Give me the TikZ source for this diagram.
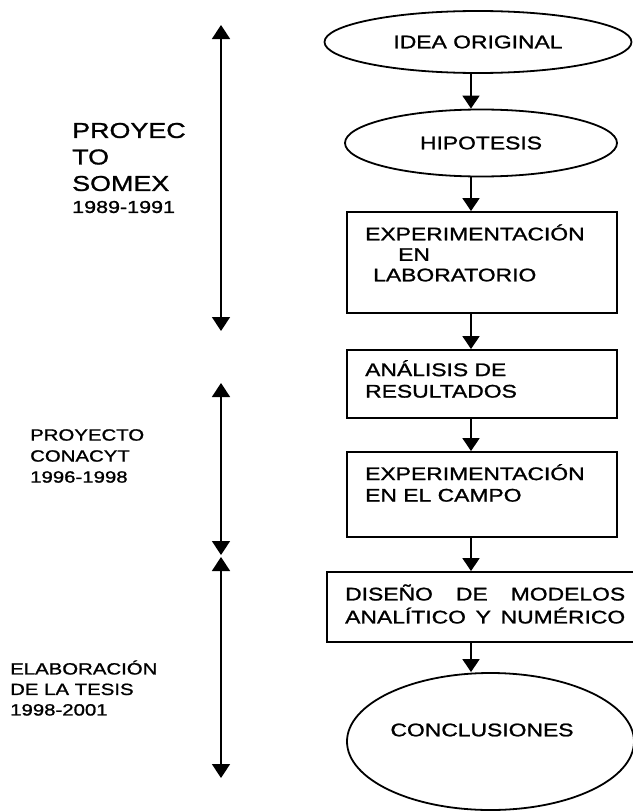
\documentclass[tikz,border=0pt]{standalone}
\usepackage{fontspec}
\setmainfont{Liberation Sans}[FakeStretch=1.25, FakeBold=1.2]
\usetikzlibrary{shapes.geometric,arrows.meta}

\begin{document}
\begin{tikzpicture}[
    x=1pt, y=-1pt,
    stage/.style={rectangle, draw=black, line width=1.8pt, inner sep=0pt},
    oval/.style={ellipse, draw=black, line width=1.8pt, inner sep=0pt,
        font=\fontsize{18.3}{21.5}\selectfont},
    boxtext/.style={anchor=west, align=left, inner sep=0pt,
        font=\fontsize{18.3}{21.5}\selectfont},
    sidetext/.style={anchor=west, align=left, inner sep=0pt,
        font=\fontsize{16.3}{20.5}\selectfont},
    flow/.style={line width=1.6pt, -{Triangle[width=17pt,length=13pt]}},
    timespan/.style={line width=1.6pt,
        {Triangle[width=18pt,length=14pt]}-{Triangle[width=18pt,length=14pt]}}
]
    \useasboundingbox[fill=white] (0,0) rectangle (632,811);

    % flowchart
    \node[oval, minimum width=307pt, minimum height=62pt] (idea) at (478,42) {IDEA ORIGINAL};
    \node[oval, minimum width=272pt, minimum height=67pt] (hipo) at (481,143) {HIPOTESIS};
    \node[stage, minimum width=270pt, minimum height=101pt] (lab) at (482,262.5) {};
    \node[stage, minimum width=270pt, minimum height=68pt] (ana) at (482,384) {};
    \node[stage, minimum width=270pt, minimum height=85pt] (campo) at (482,494.5) {};
    \node[stage, minimum width=313pt, minimum height=70pt] (diseno) at (483.5,607) {};
    \node[oval, minimum width=287pt, minimum height=137pt] (concl) at (490.5,741.5) {};

    \node[boxtext, font=\fontsize{18.3}{20.5}\selectfont] (labtext) at (365,253)
        {EXPERIMENTACIÓN\\\hspace*{33pt}EN\\\hspace*{8pt}LABORATORIO};
    \node[boxtext] (anatext) at (365,379) {ANÁLISIS DE\\RESULTADOS};
    \node[boxtext] (campotext) at (365,483) {EXPERIMENTACIÓN\\EN EL CAMPO};
    \node[boxtext, font=\fontsize{18.3}{23}\selectfont] (disenotext) at (345,604)
        {\makebox[280pt][s]{DISEÑO DE MODELOS}\\\makebox[280pt][s]{ANALÍTICO Y NUMÉRICO}};
    \node[boxtext, anchor=center] (concltext) at (482,730) {CONCLUSIONES};

    \coordinate (axis) at (471,0);
    \draw[flow] (idea.south -| axis) -- (hipo.north -| axis);
    \draw[flow] (hipo.south -| axis) -- (lab.north -| axis);
    \draw[flow] (lab.south -| axis) -- (ana.north -| axis);
    \draw[flow] (ana.south -| axis) -- (campo.north -| axis);
    \draw[flow] (campo.south -| axis) -- (diseno.north -| axis);
    \draw[flow] (diseno.south -| axis) -- (concl.north -| axis);

    % time line
    \coordinate (somextop) at (221,25);
    \coordinate (somexend) at (221,331);
    \coordinate (conacyttop) at (221,383);
    \coordinate (conacytend) at (221,555);
    \coordinate (tesistop) at (221,557);
    \coordinate (tesisend) at (221,778);
    \draw[timespan] (somextop) -- (somexend);
    \draw[timespan] (conacyttop) -- (conacytend);
    \draw[timespan] (tesistop) -- (tesisend);

    \node[sidetext, font=\fontsize{21.5}{26.5}\selectfont] (somex) at (72,157) {PROYEC\\TO\\SOMEX};
    \node[sidetext, font=\fontsize{17.2}{20}\selectfont] (somexyears) at (72,207) {1989-1991};
    \node[sidetext, font=\fontsize{16.3}{21}\selectfont] (conacyt) at (30,456) {PROYECTO\\CONACYT\\1996-1998};
    \node[sidetext] (tesis) at (10,688) {ELABORACIÓN\\DE LA TESIS\\1998-2001};
\end{tikzpicture}
\end{document}
